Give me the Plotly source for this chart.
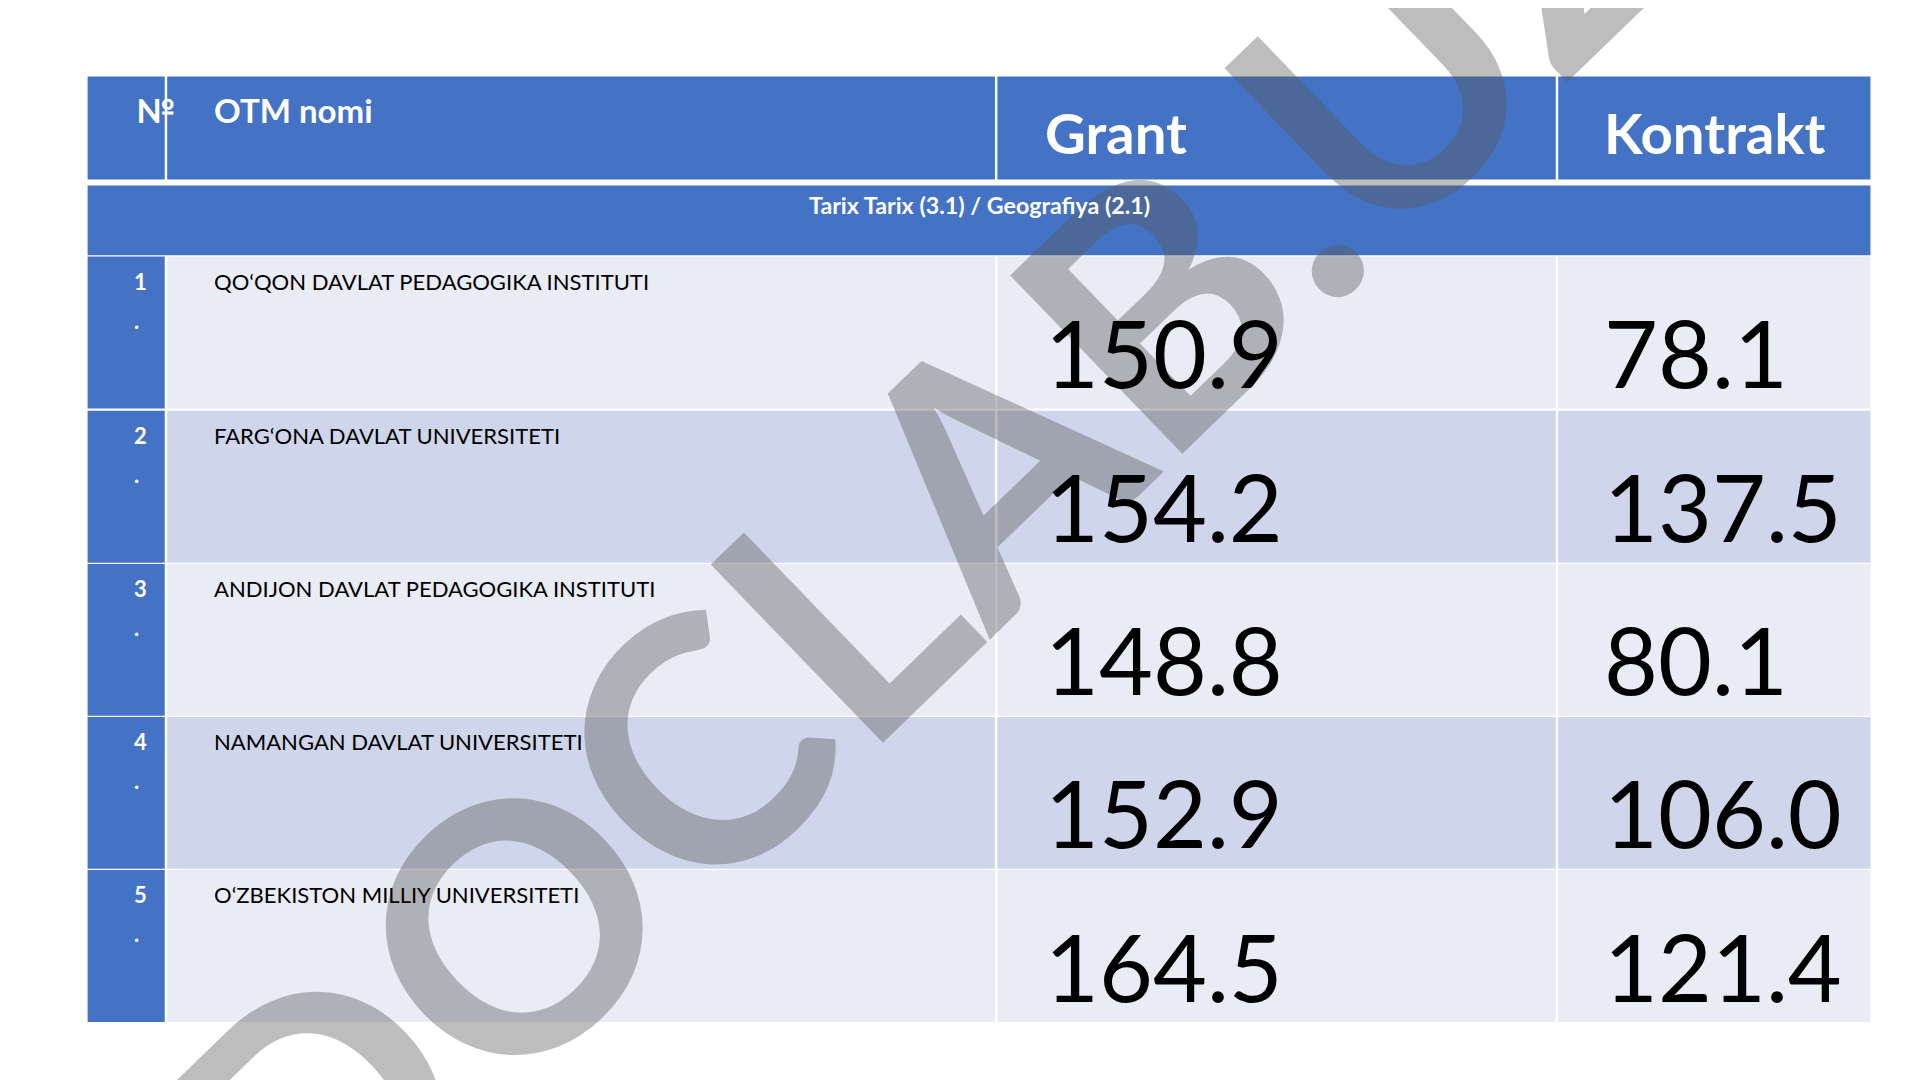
import plotly.graph_objects as go

# table content
numbers = ["1", "2", "3", "4", "5"]
names = [
    "QO‘QON DAVLAT PEDAGOGIKA INSTITUTI",
    "FARG‘ONA DAVLAT UNIVERSITETI",
    "ANDIJON DAVLAT PEDAGOGIKA INSTITUTI",
    "NAMANGAN DAVLAT UNIVERSITETI",
    "O‘ZBEKISTON MILLIY UNIVERSITETI",
]
grant = [150.9, 154.2, 148.8, 152.9, 164.5]
kontrakt = [78.1, 137.5, 80.1, 106.0, 121.4]
subtitle = "Tarix Tarix (3.1) / Geografiya (2.1)"

W, H = 1568, 882  # working coordinates
S = 1920 / W
BLUE = "#4472C4"
LIGHT = "#E9EBF5"
DARK = "#CFD5EA"
FONT = "Lato"

cols = [(65, 128), (130, 806), (808, 1264), (1266, 1521)]
row_top = [203, 329, 454, 579, 704]
row_h = 124

fig = go.Figure()
shapes = []
ann = []

# watermark (drawn first so the table text sits above it)
ann.append(dict(x=745, y=420, xref="x", yref="y", text="<b>DOCLAB.UZ</b>", showarrow=False,
                textangle=-44, font=dict(family=FONT, size=280 * S, color="rgba(90,90,90,0.4)")))

def rect(x0, x1, y0, y1, color):
    shapes.append(dict(type="rect", xref="x", yref="y", x0=x0, x1=x1, y0=y0, y1=y1,
                       fillcolor=color, line_width=0, layer="below"))

def text(x, y, s, size, color="black", bold=False, xanchor="left", yanchor="middle"):
    ann.append(dict(x=x, y=y, xref="x", yref="y", text=f"<b>{s}</b>" if bold else s,
                    showarrow=False, xanchor=xanchor, yanchor=yanchor,
                    font=dict(family=FONT, size=size * S, color=color)))

# header
for x0, x1 in cols:
    rect(x0, x1, 56, 140, BLUE)
rect(65, 1521, 145, 202, BLUE)
text(103, 83, "№", 27, "white", True)
text(167, 83, "OTM nomi", 27, "white", True)
text(845, 101, "Grant", 46, "white", True)
text(1302, 101, "Kontrakt", 46, "white", True)
text(793, 161, subtitle, 19, "white", True, xanchor="center")

for i in range(len(names)):
    y0 = row_top[i]
    bg = LIGHT if i % 2 == 0 else DARK
    rect(65, 128, y0, y0 + row_h, BLUE)
    for x0, x1 in cols[1:]:
        rect(x0, x1, y0, y0 + row_h, bg)
    text(108, y0 + 20, numbers[i], 18, "white", True, xanchor="center")
    text(105, y0 + 52, ".", 18, "white", True, xanchor="center")
    text(167, y0 + 20, names[i], 18)
    text(845, y0 + 78, f"{grant[i]:.1f}", 76)
    text(1302, y0 + 78, f"{kontrakt[i]:.1f}", 76)

fig.update_layout(
    width=1920, height=1080, margin=dict(l=0, r=0, t=0, b=0),
    paper_bgcolor="white", plot_bgcolor="white", showlegend=False,
    shapes=shapes, annotations=ann,
    xaxis=dict(range=[0, W], visible=False, fixedrange=True),
    yaxis=dict(range=[H, 0], visible=False, fixedrange=True),
)
fig.write_html("out.html")
